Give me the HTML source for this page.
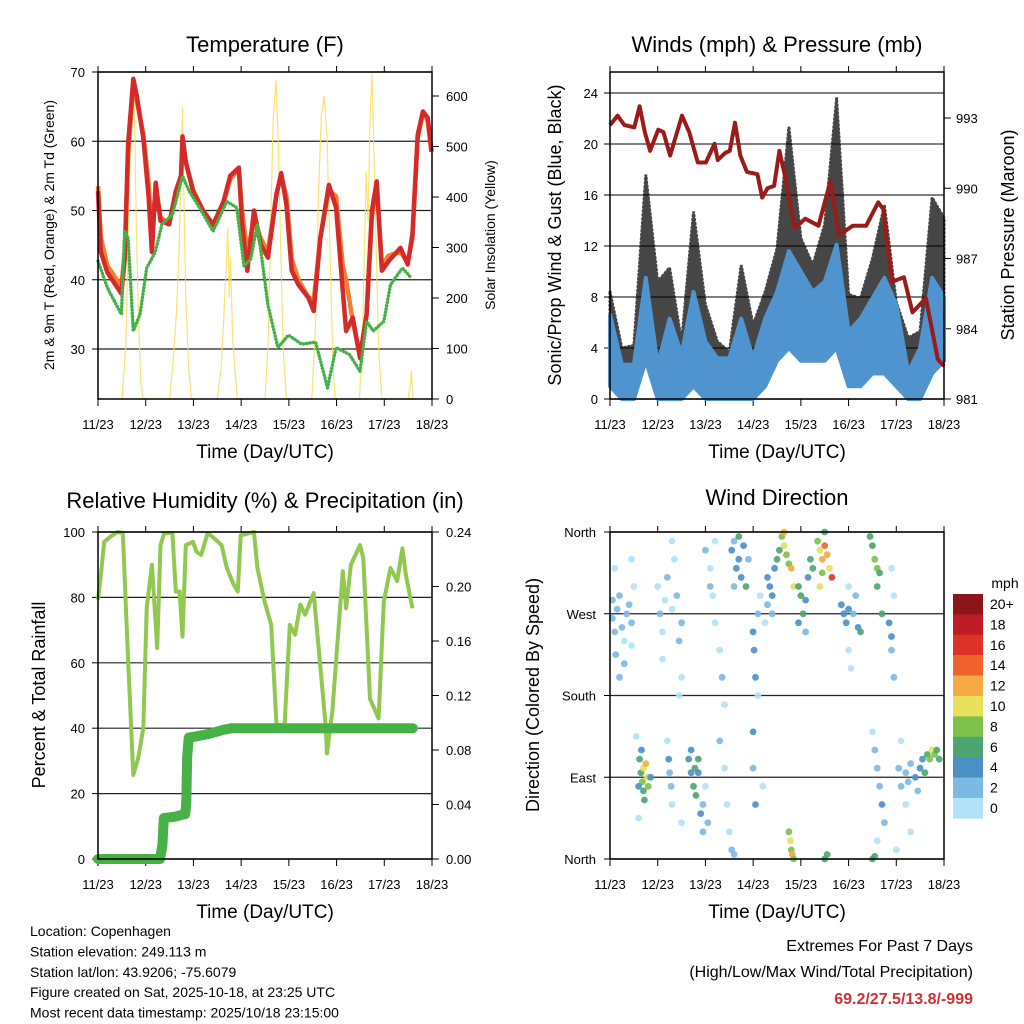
<!DOCTYPE html>
<html><head><meta charset="utf-8"><style>
body{margin:0;background:#fff;}
svg{display:block;font-family:"Liberation Sans",sans-serif;}
</style></head><body>
<svg id="c" width="1024" height="1024" viewBox="0 0 1024 1024"></svg>
<script>
// ---------- DATA ----------
const dayLabels=["11/23","12/23","13/23","14/23","15/23","16/23","17/23","18/23"];
// Temperature
const tDays=[0,0.06,0.2,0.49,0.56,0.63,0.74,0.81,0.95,1.06,1.13,1.21,1.31,1.49,1.63,1.74,1.77,1.84,1.99,2.2,2.41,2.63,2.77,2.95,3.02,3.13,3.27,3.41,3.56,3.74,3.84,3.95,4.06,4.2,4.41,4.52,4.66,4.84,4.99,5.13,5.2,5.34,5.49,5.63,5.74,5.84,5.95,6.09,6.34,6.49,6.59,6.7,6.81,6.91,6.99];
const tRed=[52.8,44,41,38,43,59.5,69,66.7,60.5,52,44,54,48.5,48,52.8,55,60.7,57,52.8,50,47.9,51.3,55,56.2,48,41.3,50,45.1,43.2,52.3,55.4,50.8,41.3,39.3,37.4,35.5,46,53.7,50.4,38.4,32.6,34.5,28.7,35,49.9,54.2,41.3,42.7,44.6,42.2,46.5,60.9,64.3,63.4,58.5];
const tOrange=[53.5,46,42,39,44,58,68,66,61,54,47,53,49,48,52,54.5,59.5,57,53,50,48,51,54.5,56,50,44,48.5,46,44,52.5,55,52,43,40,37.5,37,46,53,52,42,40,34,29,35,49,54,42,43.5,44,42.5,46,60.5,64,63,58.5];
const gDays=[0,0.2,0.49,0.56,0.63,0.74,0.88,1.02,1.2,1.34,1.56,1.77,1.91,2.13,2.41,2.7,2.91,3.06,3.2,3.34,3.56,3.77,3.99,4.27,4.56,4.81,4.99,5.27,5.49,5.63,5.77,5.99,6.13,6.38,6.56];
const gDew=[42.7,38.8,35,47,46,32.6,35,41.7,44,48,49.4,55,52.8,50.4,47,51.3,50.4,42,43,48,36.4,30.2,32,30.7,31,24.4,30.2,29.2,26.8,34,32.6,34,39.3,41.7,40.3];
const sDays=[0.5,0.58,0.63,0.68,0.72,0.74,0.77,0.8,0.85,0.9,0.95,1.5,1.58,1.65,1.7,1.74,1.77,1.8,1.84,1.9,1.96,2.5,2.58,2.63,2.68,2.72,2.75,2.78,2.82,2.87,2.92,3.5,3.57,3.62,3.67,3.73,3.78,3.83,3.88,3.95,4.48,4.56,4.62,4.68,4.74,4.8,4.86,4.92,4.97,5.48,5.55,5.62,5.66,5.7,5.74,5.78,5.83,5.88,5.95,6.5,6.55,6.57,6.6];
const sVals=[0,100,300,500,600,629,550,350,150,30,0,0,80,180,300,450,576,400,200,60,0,0,60,150,250,338,200,280,120,60,0,0,120,350,550,632,500,300,100,0,0,150,400,560,600,520,300,80,0,0,150,450,350,550,645,500,300,100,0,0,30,56,0];
const tTicks=[30,40,50,60,70];
const sTicks=[0,100,200,300,400,500,600];
// Winds
const wDays=[0,0.25,0.5,0.75,1,1.25,1.5,1.75,2,2.25,2.5,2.75,3,3.25,3.5,3.75,4,4.25,4.5,4.75,5,5.25,5.5,5.75,6,6.25,6.5,6.75,7];
const windLow=[1,0,0,3,0,0,0,1,0,0,0,0,0,1,3,4,3,3,3,4,1,1,2,2,1,0,0,2,3];
const windHigh=[6.6,2.7,2.7,9.5,2.7,6.3,3.5,8.4,4.5,3.2,3.2,6.3,3.2,6.3,8.4,11.6,10,8.4,9.2,12.1,5.3,6.3,7.9,9.5,7.4,2.1,4,9.5,8];
const gustHigh=[8.4,4,4.2,17.6,9.2,10.3,4.5,14.7,7.4,4.5,3.7,10.5,5.8,8.4,11.8,21.3,12.6,10.5,13.7,23.6,8.2,7.9,11,15.2,7.6,4.8,5.3,15.8,14.2];
const pDays=[0,0.16,0.3,0.51,0.62,0.73,0.84,1.01,1.12,1.26,1.51,1.66,1.84,2.01,2.19,2.26,2.41,2.51,2.62,2.73,2.87,3.09,3.19,3.3,3.44,3.55,3.66,3.87,4.09,4.37,4.62,4.8,5.09,5.37,5.62,5.73,5.91,6.16,6.34,6.62,6.87,7.0];
const pVals=[992.7,993.1,992.7,992.6,993.5,992.4,991.6,992.5,992.4,991.4,993.1,992.4,991.1,991.1,991.9,991.2,991.5,991.6,992.8,991.4,990.7,990.6,989.6,990,990.1,991.6,990.6,988.3,988.7,988.4,990.3,988,988.4,988.4,989.4,989.1,986,986.2,984.7,985.3,982.7,982.4];
const wTicks=[0,4,8,12,16,20,24];
const pTicks=[981,984,987,990,993];
// RH & precip
const rhDays=[0,0.06,0.13,0.27,0.41,0.52,0.63,0.74,0.84,0.95,1.02,1.13,1.24,1.31,1.39,1.56,1.63,1.71,1.77,1.84,1.99,2.06,2.16,2.3,2.44,2.59,2.7,2.84,2.93,2.99,3.27,3.34,3.49,3.63,3.74,3.91,4.02,4.13,4.24,4.34,4.52,4.77,4.8,4.91,5.13,5.2,5.3,5.49,5.56,5.7,5.88,5.99,6.13,6.27,6.38,6.45,6.59];
const rhVals=[79.3,87,97,98.7,100,99.7,61,25.7,30.8,40,76.7,90,64.5,96,99.7,99.7,81.8,81.8,68,96,97,94,93,99.7,98,96,89,84,81.8,99,100,89,78.8,71.6,41,41,71.6,68.6,77.8,74.7,81.3,41,32.3,45,88,76.7,90,96,92,49,43,78.8,89,85,95,87,76.7];
const prDays=[0,1.3,1.35,1.38,1.6,1.83,1.85,1.86,1.87,1.9,2.05,2.35,2.65,2.8,6.6];
const prVals=[0,0,0.01,0.03,0.031,0.033,0.042,0.058,0.075,0.089,0.09,0.092,0.095,0.096,0.096];
const rhTicks=[0,20,40,60,80,100];
const prTicks=["0.00","0.04","0.08","0.12","0.16","0.20","0.24"];
// Wind direction
const dirDays=[0.05,0.05,0.1,0.15,0.2,0.25,0.3,0.35,0.4,0.45,0.5,0.12,0.3,0.45,0.1,0.45,0.2,
1.0,1.05,1.1,1.15,1.2,1.3,1.35,1.4,1.45,1.5,1.5,1.45,1.1,1.3,
0.62,0.65,0.68,0.7,0.75,0.78,0.8,0.7,0.66,0.85,0.6,0.72,0.55,0.6,
1.23,1.25,1.28,1.2,1.3,
1.65,1.7,1.75,1.78,1.8,1.85,1.9,1.95,1.95,1.7,1.85,2.0,2.05,1.5,
2.1,2.15,2.2,2.3,2.35,2.4,2.3,2.4,2.45,2.5,2.2,2.0,2.1,
2.55,2.6,2.65,2.7,2.75,2.8,2.85,2.7,2.9,2.6,2.55,2.6,
3.0,3.02,3.05,3.1,3.15,3.0,3.0,3.05,3.1,3.2,
3.3,3.35,3.4,3.45,3.5,3.55,3.3,3.25,3.4,
3.6,3.65,3.7,3.75,3.8,3.65,3.85,
3.75,3.78,3.8,3.82,3.85,
3.95,4.0,4.05,4.1,4.15,4.2,4.25,3.95,4.1,
4.35,4.4,4.45,4.5,4.55,4.6,4.65,4.5,4.4,4.45,4.5,4.55,
4.85,4.9,4.95,5.0,5.1,5.2,5.25,5.0,5.05,5.0,5.15,
5.45,5.5,5.55,5.6,5.65,5.6,5.7,5.5,5.55,
5.85,5.9,5.9,5.95,5.9,5.95,
5.55,5.6,5.65,5.7,5.75,5.5,5.6,
6.05,6.1,6.2,6.25,6.3,6.4,6.5,6.55,6.6,6.65,6.7,6.75,6.8,6.85,6.9,6.2,6.3,6.45,6.1,6.0];
const dirDeg=[285,265,250,275,290,255,240,270,280,260,300,225,215,235,320,330,200,
300,270,250,285,310,275,330,290,240,260,200,180,220,350,
110,95,85,100,105,90,80,75,120,90,80,65,135,45,
110,95,80,130,60,
110,95,80,100,70,95,50,30,60,120,110,80,40,40,
320,290,260,230,200,170,130,100,60,30,350,340,300,
340,350,320,330,310,345,300,355,330,300,10,5,
250,230,200,270,290,140,100,60,180,80,
310,300,290,320,330,340,280,260,270,
355,345,335,325,320,360,300,
30,20,10,5,0,
300,290,270,285,310,330,320,260,250,
350,340,330,345,335,320,310,360,300,315,0,5,
280,270,260,275,270,255,250,230,210,300,290,
355,345,330,320,315,300,270,0,3,
260,245,230,200,320,290,
120,100,80,60,40,140,20,
100,80,95,85,105,90,100,110,95,115,110,120,115,120,110,60,30,75,130,10];
const dirSpd=[3,2,3,2,2,3,1,2,3,2,1,2,3,1,0,0,2,
1,2,1,0,2,1,0,3,3,2,0,1,0,0,
6,7,8,10,12,10,8,6,5,4,4,6,0,1,
4,3,2,1,1,
4,4,6,6,7,4,4,3,2,4,6,1,2,1,
1,0,1,1,3,1,2,0,0,1,0,2,2,
4,3,4,4,5,5,6,6,3,2,3,2,
4,4,4,2,1,4,2,4,0,1,
4,4,4,4,6,7,2,1,3,
8,10,9,8,12,12,10,
8,10,8,12,8,
6,6,6,4,4,7,7,4,3,
8,10,12,14,12,10,16,6,10,8,7,6,
4,4,5,4,3,4,6,1,1,1,3,
6,7,8,8,7,6,6,7,6,
4,4,3,2,1,0,
2,2,3,4,3,1,0,
2,2,3,2,3,4,4,5,6,7,8,10,8,6,6,1,0,3,1,0];
const dirTicks=["North","West","South","East","North"];
const spdLabels=["20+","18","16","14","12","10","8","6","4","2","0"];
const spdColors=["#8c1519","#bd1c24","#de3229","#ef622b","#f6a945","#e6e05a","#7dc04a","#4aa56e","#4a8fc6","#7cb9e4","#b3e2f8"];

// ---------- DRAW ----------
const NS="http://www.w3.org/2000/svg";
const svg=document.getElementById('c');
function mk(tag,attrs,parent){const e=document.createElementNS(NS,tag);for(const k in attrs)e.setAttribute(k,attrs[k]);(parent||svg).appendChild(e);return e;}
function txt(s,x,y,size,anchor,parent,extra){const e=mk('text',Object.assign({x:x,y:y,'font-size':size,'text-anchor':anchor||'middle',fill:'#000'},extra||{}),parent);e.textContent=s;return e;}
function lin(d0,d1,p0,p1){return v=>p0+(v-d0)/(d1-d0)*(p1-p0);}
function path(xs,ys,fx,fy){return xs.map((d,i)=>(i?'L':'M')+fx(d).toFixed(1)+','+fy(ys[i]).toFixed(1)).join('');}

function frame(g,X0,X1,Y0,Y1,title,tx){
  const fx=lin(0,7,X0,X1);
  dayLabels.forEach((l,i)=>{
    const x=fx(i);
    const t=mk('line',{x1:x,y1:Y1,x2:x,y2:Y1+7,stroke:'#000','stroke-width':1},g);
    
    mk('line',{x1:x,y1:Y0,x2:x,y2:Y0-6,stroke:'#000','stroke-width':1},g);
    const lb=txt(l,x,Y1+30,13,'middle',g);
    
  });
  const xt=txt('Time (Day/UTC)',(X0+X1)/2,Y1+59,19,'middle',g);
  
  const tt=txt(title,(X0+X1)/2,tx,22,'middle',g);
  
  return fx;
}
function box(g,X0,X1,Y0,Y1){const r=mk('rect',{x:X0,y:Y0,width:X1-X0,height:Y1-Y0,fill:'none',stroke:'#000','stroke-width':1.5},g);}

// Panel 1 Temperature
(function(){
  const g=mk('g',{});
  const X0=98,X1=432,Y0=72,Y1=399;
  const fx=frame(g,X0,X1,Y0,Y1,'Temperature (F)',52);
  const fy=lin(30,70,349,72), fs=lin(0,600,399,96);
  tTicks.forEach(v=>{const y=fy(v);mk('line',{x1:X0,y1:y,x2:X1,y2:y,stroke:'#222','stroke-width':1.2},g);mk('line',{x1:X0-6,y1:y,x2:X0,y2:y,stroke:'#000'},g);const l=txt(v,X0-13,y+5,13,'end',g);});
  sTicks.forEach(v=>{const y=fs(v);mk('line',{x1:X1,y1:y,x2:X1+7,y2:y,stroke:'#000'},g);const l=txt(v,X1+14,y+5,13,'start',g);});
  const s=mk('path',{d:path(sDays,sVals,fx,fs),fill:'none',stroke:'#f7df5a','stroke-width':1.2,opacity:0.85},g);
  
  const o=mk('path',{d:path(tDays,tOrange,fx,fy),fill:'none',stroke:'#f08030','stroke-width':4.5,'stroke-linejoin':'round'},g);
  
  const r=mk('path',{d:path(tDays,tRed,fx,fy),fill:'none',stroke:'#d42a2a','stroke-width':4.5,'stroke-linejoin':'round'},g);
  
  const gr=mk('path',{d:path(gDays,gDew,fx,fy),fill:'none',stroke:'#44b046','stroke-width':3.5,'stroke-dasharray':'0.1 3.2','stroke-linecap':'round'},g);
  
  box(g,X0,X1,Y0,Y1);
  const a=txt('2m & 9m T (Red, Orange) & 2m Td (Green)',0,0,14,'middle',g,{transform:'translate(54,235) rotate(-90)'});
  
  const b=txt('Solar Insolation (Yellow)',0,0,14,'middle',g,{transform:'translate(495,235) rotate(-90)'});
  
})();

// Panel 2 Winds
(function(){
  const g=mk('g',{});
  const X0=610,X1=944,Y0=72,Y1=399;
  const fx=frame(g,X0,X1,Y0,Y1,'Winds (mph) & Pressure (mb)',52);
  const fy=lin(0,24,399,93), fp=lin(981,993,399,118);
  wTicks.forEach(v=>{const y=fy(v);mk('line',{x1:X0,y1:y,x2:X1,y2:y,stroke:'#333','stroke-width':1.2},g);mk('line',{x1:X0-6,y1:y,x2:X0,y2:y,stroke:'#000'},g);const l=txt(v,X0-12,y+5,13,'end',g);});
  pTicks.forEach(v=>{const y=fp(v);mk('line',{x1:X1,y1:y,x2:X1+7,y2:y,stroke:'#000'},g);const l=txt(v,X1+12,y+5,13,'start',g);});
  const top=wDays.map((d,i)=>fx(d).toFixed(1)+','+fy(gustHigh[i]).toFixed(1));
  const mid=wDays.map((d,i)=>fx(d).toFixed(1)+','+fy(windHigh[i]).toFixed(1)).reverse();
  const gp=mk('polygon',{points:top.concat(mid).join(' '),fill:'#000',opacity:0.72,stroke:'#000','stroke-width':3,'stroke-dasharray':'1 3','stroke-linecap':'round'},g);
  
  const hi=wDays.map((d,i)=>fx(d).toFixed(1)+','+fy(windHigh[i]).toFixed(1));
  const lo=wDays.map((d,i)=>fx(d).toFixed(1)+','+fy(windLow[i]).toFixed(1)).reverse();
  const wp=mk('polygon',{points:hi.concat(lo).join(' '),fill:'#4f94cf',stroke:'#4f94cf','stroke-width':4,'stroke-linejoin':'round'},g);
  
  const p=mk('path',{d:path(pDays,pVals,fx,fp),fill:'none',stroke:'#9b1b1b','stroke-width':4,'stroke-linejoin':'round'},g);
  
  box(g,X0,X1,Y0,Y1);
  const a=txt('Sonic/Prop Wind & Gust (Blue, Black)',0,0,18,'middle',g,{transform:'translate(561,235) rotate(-90)'});
  
  const b=txt('Station Pressure (Maroon)',0,0,18,'middle',g,{transform:'translate(1014,235) rotate(-90)'});
  
})();

// Panel 3 RH
(function(){
  const g=mk('g',{});
  const X0=98,X1=432,Y0=532,Y1=859;
  const fx=frame(g,X0,X1,Y0,Y1,'Relative Humidity (%) & Precipitation (in)',508);
  const fy=lin(0,100,859,532), fp=lin(0,0.24,859,532);
  rhTicks.forEach(v=>{const y=fy(v);mk('line',{x1:X0,y1:y,x2:X1,y2:y,stroke:'#222','stroke-width':1.2},g);mk('line',{x1:X0-6,y1:y,x2:X0,y2:y,stroke:'#000'},g);const l=txt(v,X0-13,y+5,13,'end',g);});
  prTicks.forEach(v=>{const y=fp(+v);mk('line',{x1:X1,y1:y,x2:X1+7,y2:y,stroke:'#000'},g);const l=txt(v,X1+14,y+5,13,'start',g);});
  const r=mk('path',{d:path(rhDays,rhVals,fx,fy),fill:'none',stroke:'#90c850','stroke-width':4,'stroke-linejoin':'round'},g);
  
  const p=mk('path',{d:path(prDays,prVals,fx,fp),fill:'none',stroke:'#46b246','stroke-width':10,'stroke-linecap':'round','stroke-linejoin':'round'},g);
  
  box(g,X0,X1,Y0,Y1);
  const a=txt('Percent & Total Rainfall',0,0,18,'middle',g,{transform:'translate(45,695) rotate(-90)'});
  
})();

// Panel 4 Wind Direction
(function(){
  const g=mk('g',{});
  const X0=610,X1=944,Y0=532,Y1=859;
  const fx=frame(g,X0,X1,Y0,Y1,'Wind Direction',505);
  const fy=lin(0,360,859,532);
  dirTicks.forEach((l,i)=>{const y=fy(360-i*90);mk('line',{x1:X0,y1:y,x2:X1,y2:y,stroke:'#222','stroke-width':1.2},g);mk('line',{x1:X0-6,y1:y,x2:X0,y2:y,stroke:'#000'},g);const t=txt(l,X0-14,y+5,13,'end',g);});
  dirDays.forEach((d,i)=>{
    const b=Math.min(10,Math.floor(dirSpd[i]/2));
    const c=mk('circle',{cx:fx(d).toFixed(1),cy:fy(dirDeg[i]).toFixed(1),r:3.4,fill:spdColors[10-b],opacity:0.9},g);
    
    
  });
  box(g,X0,X1,Y0,Y1);
  const a=txt('Direction (Colored By Speed)',0,0,18,'middle',g,{transform:'translate(539,695) rotate(-90)'});
  
  const lg=mk('g',{},g);
  const m=txt('mph',1005,588,14,'middle',lg);
  spdLabels.forEach((l,i)=>{
    const y=594+i*20.4;
    const r=mk('rect',{x:953,y:y,width:30,height:20.6,fill:spdColors[i]},lg);
    
    const t=txt(l,990,y+15,14,'start',lg);
  });
})();

// Footer
const info=["Location: Copenhagen","Station elevation: 249.113 m","Station lat/lon: 43.9206; -75.6079","Figure created on Sat, 2025-10-18, at 23:25 UTC","Most recent data timestamp: 2025/10/18 23:15:00"];
info.forEach((s,i)=>{const t=txt(s,30,936+i*20.4,14,'start');});
const e1=txt('Extremes For Past 7 Days',973,951,16,'end');
const e2=txt('(High/Low/Max Wind/Total Precipitation)',973,977,16,'end');
const e3=txt('69.2/27.5/13.8/-999',973,1004,16,'end',null,{fill:'#d32f2f','font-weight':'bold'});
</script>
</body></html>
